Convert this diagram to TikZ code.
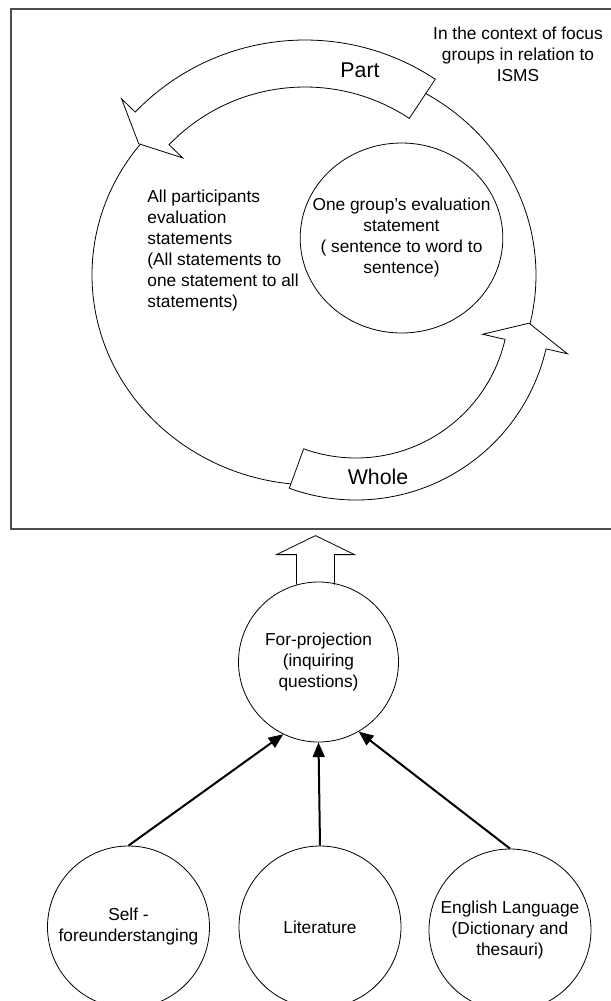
\documentclass[tikz,border=0pt]{standalone}
\usepackage{fontspec}
\setmainfont{Liberation Sans}
\usetikzlibrary{positioning}
\usetikzlibrary{shapes.geometric}
\usetikzlibrary{calc}
\usetikzlibrary{arrows.meta}

\begin{document}
\begin{tikzpicture}[x=0.75pt, y=-0.75pt, line width=0.6pt,
		every node/.style={font=\fontsize{13}{15.75}\selectfont},
		bubble/.style={draw, circle, minimum size=121.5pt, inner sep=0pt, align=center},
		bandarrow/.style={draw, fill=white, line join=miter},
		feed/.style={-{Triangle[length=11pt, width=9pt]}, line width=1.5pt},
		bigword/.style={font=\fontsize{16}{19}\selectfont}]
			\useasboundingbox (0,0) rectangle (611,1001);
			\node at (312,269) (frame) [draw=black!70, line width=1pt, minimum width=451.5pt, minimum height=390pt] {};
			\draw (314,275) ellipse [x radius=222, y radius=210]; %cycle behind the two bands
			\begin{scope}[shift={(305,276)}]
			\draw[bandarrow] (-56.5:236) arc[start angle=-56.5, end angle=-136, radius=236] -- (-136:255) -- (-141.5:212.5) -- (-136:170) -- (-136:189) arc[start angle=-136, end angle=-56.5, radius=189] -- cycle;
			\end{scope}
			\begin{scope}[shift={(356,305)}]
			\draw[bandarrow] (110:195) arc[start angle=110, end angle=13, radius=195] -- (13:217) -- (6:174) -- (13:130) -- (13:153) arc[start angle=13, end angle=110, radius=153] -- cycle;
			\end{scope}
			\node at (518,54) (context) [align=center] {In the context of focus\\groups in relation to\\ISMS};
			\node at (360,70) (part) [bigword] {Part};
			\node at (378,477) (whole) [bigword] {Whole};
			\node at (147,251) (allstat) [anchor=west, inner sep=0pt, align=left] {All participants\\evaluation\\statements\\(All statements to\\one statement to all\\statements)};
			\node at (401.5,238) (group) [draw, ellipse, minimum width=152pt, minimum height=142.5pt] {};
			\node at (group.center) (grouptext) [align=center] {One group’s evaluation\\statement\\( sentence to word to\\sentence)};
			\node at (318.5,662) (forproj) [bubble, minimum size=120pt] {For-projection\\(inquiring\\questions)};
			\node at (128.5,927) (self) [bubble] {Self -\\foreunderstanging};
			\node at (320,927) (lit) [bubble] {Literature};
			\node at (510,930) (eng) [bubble] {English Language\\(Dictionary and\\thesauri)};
			\draw[feed] (self.north) -- (forproj.244);
			\draw[feed] (lit.north) -- (forproj.south);
			\draw[feed] (eng.north) -- (forproj.300);
			\draw ($(forproj.north)+(-22,3)$) -- ++(0,-30) -- ++(-20,0) -- ($(forproj.north)+(-3,-46)$) -- ($(forproj.north)+(36,-27)$) -- ++(-20,0) -- ++(0,30); %open block arrow up to the frame
\end{tikzpicture}
\end{document}
